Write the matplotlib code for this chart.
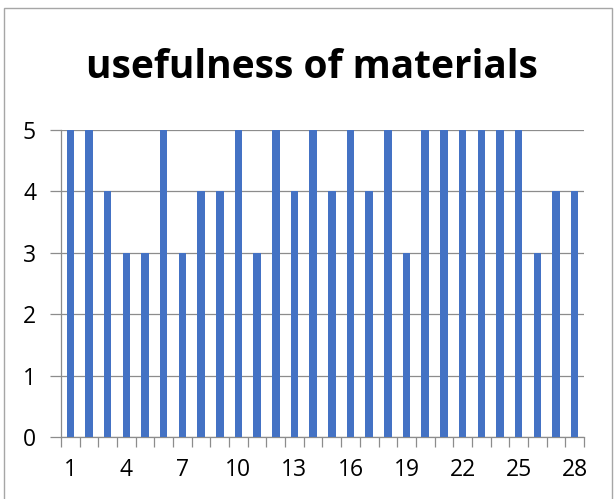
import matplotlib
matplotlib.use("Agg")
import matplotlib.pyplot as plt
from matplotlib.patches import Rectangle
from matplotlib.ticker import FixedLocator

title = "usefulness of materials"
categories = list(range(1, 29))
values = [5, 5, 4, 3, 3, 5, 3, 4, 4, 5, 3, 5, 4, 5, 4, 5, 4, 5, 3, 5, 5, 5, 5, 5, 5, 3, 4, 4]
tick_labels = [1, 4, 7, 10, 13, 16, 19, 22, 25, 28]

plt.rcParams['font.family'] = ['Open Sans', 'DejaVu Sans']

W, H = 616, 499
fig = plt.figure(figsize=(W / 100, H / 100), dpi=100)
fig.patch.set_facecolor('white')

# outer frame
fig.patches.append(Rectangle((4 / W, -0.01), (612 - 4) / W, (H - 8) / H + 0.01,
                             transform=fig.transFigure, fill=False,
                             edgecolor='#a6a6a6', linewidth=1.0))

ax = fig.add_axes([61 / W, (H - 437) / H, (584 - 61) / W, (437 - 130) / H])
ax.bar(categories, values, width=0.4, color='#4472C4', zorder=3)
ax.set_xlim(0.5, 28.5)
ax.set_ylim(0, 5)

ax.set_yticks([0, 1, 2, 3, 4, 5])
ax.yaxis.grid(True, color='#8c8c8c', linewidth=0.9, zorder=0)
ax.tick_params(axis='y', length=8, color='#8c8c8c', width=0.9, labelsize=16.5, pad=10)

ax.set_xticks(tick_labels)
ax.set_xticklabels([str(t) for t in tick_labels])
ax.tick_params(axis='x', which='major', length=0, labelsize=16.5, pad=15)
ax.xaxis.set_minor_locator(FixedLocator([i + 0.5 for i in range(0, 29)]))
ax.tick_params(axis='x', which='minor', length=7, color='#8c8c8c', width=0.9)

for s in ['top', 'right']:
    ax.spines[s].set_visible(False)
for s in ['left', 'bottom']:
    ax.spines[s].set_color('#8c8c8c')
    ax.spines[s].set_linewidth(0.9)

fig.text(312 / W, 1 - 68 / H, title, ha='center', va='center',
         fontsize=28, fontweight='bold')

fig.savefig('out.png', dpi=100, facecolor='white')
